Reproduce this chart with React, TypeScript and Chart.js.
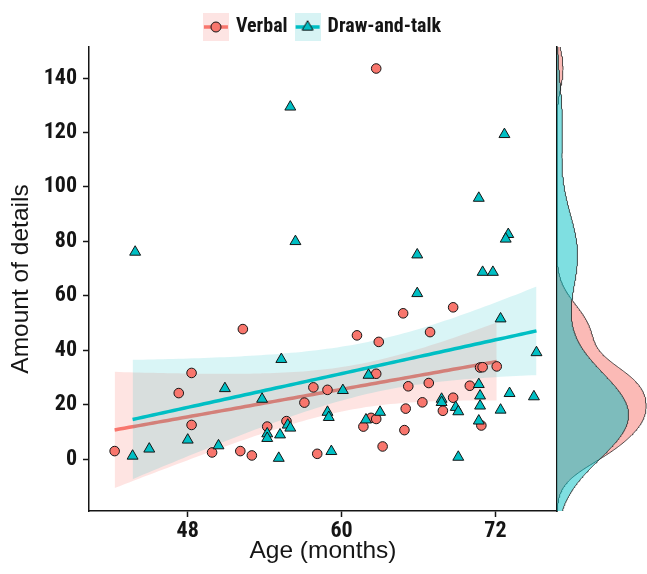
import React, { useEffect, useRef } from 'react';
import { Chart, registerables } from 'chart.js';

Chart.register(...registerables);

// ---------- data ----------
const VERBAL_AGE = [42.3, 47.3, 48.3, 48.3, 49.9, 52.1, 52.3, 53.0, 54.2, 55.7, 57.1, 57.8, 58.1, 58.9, 61.2, 61.7, 62.3, 62.7, 62.7, 62.9, 63.2, 62.7, 64.8, 64.9, 65.0, 65.2, 66.3, 66.8, 66.9, 67.9, 68.7, 68.7, 70.0, 70.8, 71.0, 70.9, 72.1];
const VERBAL_DETAILS = [3.0, 24.3, 31.7, 12.6, 2.5, 3.0, 47.8, 1.4, 12.0, 14.0, 20.8, 26.4, 2.0, 25.5, 45.5, 12.0, 15.2, 14.8, 31.4, 43.1, 4.7, 143.5, 53.6, 10.7, 18.6, 26.8, 20.9, 28.0, 46.7, 17.8, 22.6, 55.8, 27.0, 33.7, 33.8, 12.4, 34.1];

const DRAW_AGE = [43.9, 43.7, 45.0, 48.0, 50.4, 50.9, 53.8, 54.2, 54.2, 55.2, 55.1, 55.3, 55.8, 56.0, 56.0, 56.4, 58.9, 59.0, 59.2, 60.1, 61.9, 62.1, 63.0, 65.9, 65.9, 67.8, 67.8, 68.9, 69.1, 69.1, 70.7, 70.7, 70.8, 70.8, 70.7, 71.0, 71.8, 72.4, 72.4, 72.7, 73.0, 72.8, 73.1, 75.2, 75.0];
const DRAW_DETAILS = [76.1, 1.2, 3.8, 7.1, 5.0, 26.0, 22.1, 9.4, 7.7, 9.0, 0.4, 36.7, 12.6, 11.5, 129.4, 80.0, 17.3, 15.4, 2.9, 25.3, 14.5, 30.9, 17.3, 75.1, 60.9, 22.1, 20.9, 19.1, 17.5, 0.8, 95.9, 27.5, 23.3, 19.6, 14.1, 68.7, 68.7, 51.6, 18.1, 119.3, 82.6, 80.9, 24.2, 39.2, 23.0];

const SERIES_NAMES = ['Verbal', 'Draw-and-talk'];
const X_TICKS = [48, 60, 72];
const Y_TICKS = [0, 20, 40, 60, 80, 100, 120, 140];
const X_RANGE = [40.3, 76.8];
const Y_RANGE = [-19, 151.4];
const X_TITLE = 'Age (months)';
const Y_TITLE = 'Amount of details';
// two-sided 95% t critical values for df = n - 2 (35 and 43)
const T_CRIT = [2.0301, 2.0167];

// ---------- styling ----------
const RED = '#F8766D';
const TEAL = '#00BFC4';
const INK = '#151515';
const NARROW = "'Roboto Condensed', 'Liberation Sans Narrow', 'DejaVu Sans Condensed', sans-serif";
const SANS = "'Liberation Sans', Arial, sans-serif";
const W = 647;
const H = 574;

// ---------- statistics (linear fit + 95% CI, Gaussian KDE) ----------
function mean(a: number[]) { return a.reduce((s, v) => s + v, 0) / a.length; }

function fitBand(xs: number[], ys: number[], t: number) {
  const n = xs.length;
  const mx = mean(xs), my = mean(ys);
  let sxx = 0, sxy = 0;
  for (let i = 0; i < n; i++) { sxx += (xs[i] - mx) ** 2; sxy += (xs[i] - mx) * (ys[i] - my); }
  const b = sxy / sxx;
  const a = my - b * mx;
  let sse = 0;
  for (let i = 0; i < n; i++) sse += (ys[i] - (a + b * xs[i])) ** 2;
  const s = Math.sqrt(sse / (n - 2));
  const lo = Math.min(...xs), hi = Math.max(...xs);
  const out: { x: number; fit: number; lo: number; hi: number }[] = [];
  const N = 80;
  for (let k = 0; k < N; k++) {
    const x = lo + (hi - lo) * k / (N - 1);
    const f = a + b * x;
    const se = s * Math.sqrt(1 / n + (x - mx) ** 2 / sxx);
    out.push({ x, fit: f, lo: f - t * se, hi: f + t * se });
  }
  return out;
}

function quantile(sorted: number[], p: number) {
  const h = (sorted.length - 1) * p;
  const l = Math.floor(h);
  return sorted[l] + (h - l) * ((sorted[Math.min(l + 1, sorted.length - 1)]) - sorted[l]);
}

function kde(ys: number[], grid: number[]) {
  const n = ys.length;
  const m = mean(ys);
  const sd = Math.sqrt(ys.reduce((s, v) => s + (v - m) ** 2, 0) / (n - 1));
  const sorted = [...ys].sort((p, q) => p - q);
  const iqr = quantile(sorted, 0.75) - quantile(sorted, 0.25);
  const bw = 0.9 * Math.min(sd, iqr / 1.34) * Math.pow(n, -0.2);
  return grid.map(g => {
    let s = 0;
    for (const v of ys) { const z = (g - v) / bw; s += Math.exp(-0.5 * z * z); }
    return s / (n * bw * Math.sqrt(2 * Math.PI));
  });
}

function makeKey(color: string, bg: string, shape: 'circle' | 'triangle') {
  const c = document.createElement('canvas');
  c.width = 26; c.height = 28;
  const g = c.getContext('2d')!;
  g.fillStyle = bg; g.fillRect(0, 0, 26, 28);
  g.strokeStyle = color; g.lineWidth = 3.5;
  g.beginPath(); g.moveTo(1, 14); g.lineTo(25, 14); g.stroke();
  g.fillStyle = color; g.strokeStyle = INK; g.lineWidth = 1;
  g.beginPath();
  if (shape === 'circle') {
    g.arc(13, 14, 5, 0, Math.PI * 2);
  } else {
    const r = 6.3;
    g.moveTo(13, 14 - r);
    g.lineTo(13 + r * Math.sin(Math.PI / 3), 14 + r / 2);
    g.lineTo(13 - r * Math.sin(Math.PI / 3), 14 + r / 2);
    g.closePath();
  }
  g.fill(); g.stroke();
  return c;
}

export default function App() {
  const mainRef = useRef<HTMLCanvasElement>(null);
  const densRef = useRef<HTMLCanvasElement>(null);

  useEffect(() => {
    if (!mainRef.current || !densRef.current) return;
    const vBand = fitBand(VERBAL_AGE, VERBAL_DETAILS, T_CRIT[0]);
    const dBand = fitBand(DRAW_AGE, DRAW_DETAILS, T_CRIT[1]);
    const vPts = VERBAL_AGE.map((x, i) => ({ x, y: VERBAL_DETAILS[i] }));
    const dPts = DRAW_AGE.map((x, i) => ({ x, y: DRAW_DETAILS[i] }));

    const keyV = makeKey(RED, '#FDE4E3', 'circle');
    const keyD = makeKey(TEAL, '#D7F3F4', 'triangle');

    const lineBase = { type: 'line' as const, pointRadius: 0, tension: 0 };

    const main = new Chart(mainRef.current, {
      type: 'scatter',
      data: {
        datasets: [
          { ...lineBase, label: 'vHi', data: vBand.map(p => ({ x: p.x, y: p.hi })), borderColor: 'transparent', borderWidth: 0, fill: false, order: 6 },
          { ...lineBase, label: 'vLo', data: vBand.map(p => ({ x: p.x, y: p.lo })), borderColor: 'transparent', borderWidth: 0, fill: '-1', backgroundColor: 'rgba(248,118,109,0.2)', order: 6 },
          { ...lineBase, label: 'vFit', data: vBand.map(p => ({ x: p.x, y: p.fit })), borderColor: RED, borderWidth: 3.5, fill: false, order: 5 },
          { ...lineBase, label: 'dHi', data: dBand.map(p => ({ x: p.x, y: p.hi })), borderColor: 'transparent', borderWidth: 0, fill: false, order: 4 },
          { ...lineBase, label: 'dLo', data: dBand.map(p => ({ x: p.x, y: p.lo })), borderColor: 'transparent', borderWidth: 0, fill: '-1', backgroundColor: 'rgba(0,191,196,0.15)', order: 4 },
          { ...lineBase, label: 'dFit', data: dBand.map(p => ({ x: p.x, y: p.fit })), borderColor: TEAL, borderWidth: 3.5, fill: false, order: 3 },
          { type: 'scatter', label: SERIES_NAMES[0], data: vPts, pointStyle: 'circle', pointRadius: 4.8, backgroundColor: RED, borderColor: INK, borderWidth: 1, order: 2 },
          { type: 'scatter', label: SERIES_NAMES[1], data: dPts, pointStyle: 'triangle', pointRadius: 6.3, backgroundColor: TEAL, borderColor: INK, borderWidth: 1, order: 1 },
        ] as any,
      },
      options: {
        responsive: false,
        animation: false,
        events: [],
        devicePixelRatio: 1,
        layout: { padding: { top: 7, left: 0, right: 0, bottom: 0 } },
        plugins: {
          tooltip: { enabled: false },
          legend: {
            display: true,
            position: 'top',
            labels: {
              usePointStyle: true,
              pointStyleWidth: 20,
              padding: 10,
              color: INK,
              font: { family: NARROW, size: 20, weight: 'bold' },
              generateLabels: () => [
                { text: SERIES_NAMES[0], pointStyle: keyV as any, fillStyle: 'transparent', strokeStyle: 'transparent', lineWidth: 0, hidden: false, datasetIndex: 6, fontColor: INK },
                { text: SERIES_NAMES[1], pointStyle: keyD as any, fillStyle: 'transparent', strokeStyle: 'transparent', lineWidth: 0, hidden: false, datasetIndex: 7, fontColor: INK },
              ],
            },
          },
        },
        scales: {
          x: {
            type: 'linear',
            min: X_RANGE[0],
            max: X_RANGE[1],
            afterBuildTicks: (s: any) => { s.ticks = X_TICKS.map(v => ({ value: v })); },
            afterFit: (s: any) => { s.height = 63; },
            ticks: { color: INK, padding: 1, font: { family: NARROW, size: 22, weight: 'bold' } },
            grid: { display: true, drawOnChartArea: false, drawTicks: true, tickLength: 6, tickColor: INK, tickWidth: 1.5 },
            border: { display: true, color: INK, width: 1.5 },
            title: { display: true, text: X_TITLE, color: INK, font: { family: SANS, size: 24.5 }, padding: { top: 0, bottom: 8 } },
          },
          y: {
            type: 'linear',
            min: Y_RANGE[0],
            max: Y_RANGE[1],
            afterBuildTicks: (s: any) => { s.ticks = Y_TICKS.map(v => ({ value: v })); },
            afterFit: (s: any) => { s.width = 89; },
            ticks: { color: INK, padding: 6, font: { family: NARROW, size: 22, weight: 'bold' } },
            grid: { display: true, drawOnChartArea: false, drawTicks: true, tickLength: 6, tickColor: INK, tickWidth: 1.5 },
            border: { display: true, color: INK, width: 1.5 },
            title: { display: true, text: Y_TITLE, color: INK, font: { family: SANS, size: 24.5 }, padding: { top: 7, bottom: 0 } },
          },
          yRight: {
            type: 'linear',
            position: 'right',
            display: true,
            ticks: { display: false },
            grid: { display: false },
            border: { display: false },
            afterFit: (s: any) => { s.width = 90; },
          },
        },
      } as any,
    });

    const ca = main.chartArea;
    const N = 512;
    const grid: number[] = [];
    for (let i = 0; i < N; i++) grid.push(Y_RANGE[0] + (Y_RANGE[1] - Y_RANGE[0]) * i / (N - 1));
    const dv = kde(VERBAL_DETAILS, grid);
    const dd = kde(DRAW_DETAILS, grid);
    const dMax = Math.max(...dv, ...dd);

    const dens = new Chart(densRef.current, {
      type: 'line',
      data: {
        datasets: [
          { label: 'vDens', data: grid.map((y, i) => ({ x: dv[i], y })), fill: 'origin', backgroundColor: 'rgba(248,118,109,0.5)', borderColor: '#222', borderWidth: 0.8, pointRadius: 0, order: 2 },
          { label: 'dDens', data: grid.map((y, i) => ({ x: dd[i], y })), fill: 'origin', backgroundColor: 'rgba(0,191,196,0.5)', borderColor: '#222', borderWidth: 0.8, pointRadius: 0, order: 1 },
        ],
      },
      options: {
        responsive: false,
        animation: false,
        events: [],
        devicePixelRatio: 1,
        indexAxis: 'y',
        layout: { padding: { left: ca.right, top: ca.top, bottom: H - ca.bottom, right: 0 } },
        plugins: { legend: { display: false }, tooltip: { enabled: false } },
        scales: {
          x: { type: 'linear', min: 0, max: dMax * 1.01, display: false },
          y: {
            type: 'linear',
            min: Y_RANGE[0],
            max: Y_RANGE[1],
            position: 'left',
            ticks: { display: false },
            grid: { display: false, drawTicks: false },
            border: { display: true, color: INK, width: 1.5 },
            afterFit: (s: any) => { s.width = 0; },
          },
        },
      } as any,
    });

    return () => { main.destroy(); dens.destroy(); };
  }, []);

  return (
    <div style={{ position: 'fixed', left: 0, top: 0, width: W, height: H, background: '#fff' }}>
      <canvas ref={mainRef} width={W} height={H} style={{ position: 'absolute', left: 0, top: 0 }} />
      <canvas ref={densRef} width={W} height={H} style={{ position: 'absolute', left: 0, top: 0 }} />
    </div>
  );
}
